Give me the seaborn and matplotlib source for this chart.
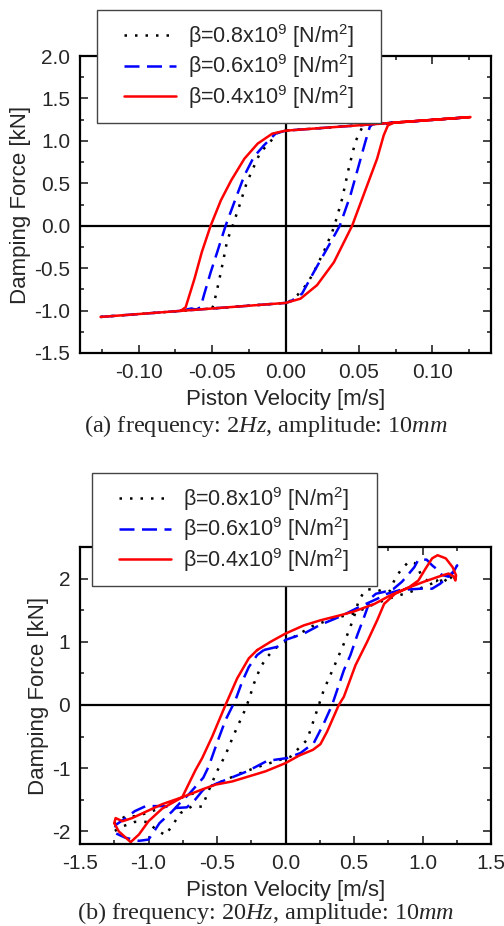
import matplotlib
matplotlib.use("Agg")
import matplotlib.pyplot as plt
import seaborn as sns
from matplotlib.lines import Line2D
from matplotlib.legend_handler import HandlerLine2D
from matplotlib.ticker import MultipleLocator, FormatStrFormatter

# ---- data (closed hysteresis loops) ----
labels = [r"β=0.8x10$^{9}$ [N/m$^{2}$]",
          r"β=0.6x10$^{9}$ [N/m$^{2}$]",
          r"β=0.4x10$^{9}$ [N/m$^{2}$]"]

# (a) 2 Hz
a_x_08 = [-0.126, 0.0, 0.004, 0.008, 0.0148, 0.0193, 0.026, 0.0318, 0.034, 0.0386, 0.043, 0.0476,
          0.052, 0.057, 0.126, 0.0, -0.006, -0.0113, -0.017, -0.0238, -0.027, -0.0317, -0.0363,
          -0.0397, -0.0424, -0.0454, -0.0488, -0.050]
a_y_08 = [-1.075, -0.91, -0.88, -0.82, -0.684, -0.546, -0.31, -0.075, 0.04, 0.318, 0.67, 0.99,
          1.15, 1.195, 1.28, 1.12, 1.09, 0.967, 0.87, 0.61, 0.475, 0.22, -0.015,
          -0.173, -0.41, -0.66, -0.92, -0.976]

a_x_06 = [-0.126, 0.0, 0.0034, 0.0113, 0.0193, 0.0283, 0.037, 0.0442, 0.0499, 0.0544, 0.0574,
          0.0612, 0.0646, 0.0714, 0.126, 0.0, -0.0068, -0.0147, -0.0216, -0.028, -0.034, -0.0408,
          -0.0465, -0.051, -0.0556, -0.0578, -0.061, -0.064, -0.068]
a_y_06 = [-1.075, -0.91, -0.893, -0.80, -0.546, -0.27, 0.0, 0.357, 0.71, 0.99, 1.164,
          1.23, 1.20, 1.21, 1.28, 1.12, 1.085, 0.947, 0.81, 0.593, 0.318, 0.0,
          -0.31, -0.55, -0.82, -0.96, -0.99, -0.975, -0.99]

a_x_04 = [-0.126, 0.0, 0.0102, 0.0215, 0.033, 0.0454, 0.054, 0.0624, 0.0669, 0.0697, 0.0737,
          0.126, 0.0, -0.009, -0.019, -0.028, -0.037, -0.044, -0.051, -0.057, -0.062, -0.068, -0.0714]
a_y_04 = [-1.075, -0.91, -0.86, -0.70, -0.43, 0.0, 0.40, 0.79, 1.065, 1.18, 1.215,
          1.28, 1.12, 1.085, 0.967, 0.79, 0.534, 0.30, 0.0, -0.31, -0.625, -0.96, -1.003]

# (b) 20 Hz
b_x_08 = [-0.073, 0.0, 0.207, 0.353, 0.5, 0.65, 0.79, 0.9, 1.0, 1.1, 1.2, 1.24,
          1.23, 1.18, 1.143, 1.1, 1.034, 0.985, 0.95, 0.9, 0.84, 0.8, 0.76, 0.717, 0.645, 0.584,
          0.535, 0.5, 0.426, 0.353, 0.28, 0.231, 0.158, 0.036, 0.0,
          -0.2, -0.33, -0.43, -0.52, -0.62, -0.74, -0.83, -0.9, -1.01, -1.095, -1.168, -1.25,
          -1.25, -1.2, -1.1, -1.0, -0.949, -0.876, -0.815, -0.766, -0.68, -0.608, -0.56, -0.5,
          -0.438, -0.377, -0.30, -0.268, -0.23, -0.182, -0.134, -0.073]
b_y_08 = [0.9, 1.0, 1.26, 1.37, 1.45, 1.6, 1.71, 1.78, 1.86, 1.95, 2.0, 2.08,
          2.0, 1.95, 2.02, 1.96, 1.97, 2.08, 2.24, 2.27, 2.13, 2.0, 1.80, 1.79, 1.84, 1.82,
          1.66, 1.39, 0.97, 0.6, 0.24, -0.08, -0.55, -0.82, -0.84,
          -0.98, -1.08, -1.18, -1.26, -1.36, -1.45, -1.53, -1.62, -1.71, -1.76, -1.76, -1.88,
          -2.0, -1.93, -1.85, -1.85, -1.97, -2.06, -1.87, -1.71, -1.6, -1.61, -1.35, -1.05,
          -0.79, -0.47, -0.1, 0.08, 0.34, 0.6, 0.76, 0.9]

b_x_06 = [-0.158, -0.061, 0.0, 0.134, 0.255, 0.4, 0.547, 0.669, 0.742, 0.839, 0.985, 1.07,
          1.13, 1.19, 1.23, 1.253,
          1.24, 1.19, 1.14, 1.11, 1.07, 1.03, 0.97, 0.94, 0.89, 0.85, 0.79, 0.72, 0.66, 0.633,
          0.6, 0.57, 0.523, 0.474, 0.426, 0.34, 0.28, 0.207, 0.11, 0.012,
          -0.134, -0.28, -0.5, -0.6, -0.66, -0.72, -0.8, -0.9, -1.02, -1.1, -1.155, -1.2,
          -1.24, -1.25,
          -1.17, -1.07, -1.0, -0.95, -0.92, -0.83, -0.77, -0.7, -0.6, -0.56, -0.5, -0.438,
          -0.365, -0.316, -0.268, -0.207, -0.158]
b_y_06 = [0.87, 0.92, 1.03, 1.13, 1.27, 1.40, 1.56, 1.68, 1.76, 1.82, 1.84, 1.84,
          1.92, 2.04, 2.12, 2.21,
          2.12, 2.03, 2.06, 2.14, 2.21, 2.30, 2.30, 2.18, 2.05, 1.95, 1.84, 1.79, 1.76, 1.71,
          1.55, 1.37, 1.1, 0.79, 0.55, 0.0, -0.29, -0.6, -0.76, -0.84,
          -0.885, -1.05, -1.24, -1.34, -1.5, -1.62, -1.63, -1.6, -1.6, -1.68, -1.77, -1.84,
          -1.9, -2.02,
          -2.1, -2.15, -2.13, -1.97, -1.87, -1.69, -1.55, -1.4, -1.15, -0.97, -0.6, -0.24,
          0.08, 0.37, 0.6, 0.79, 0.87]

b_x_04 = [-0.207, -0.109, 0.0, 0.134, 0.255, 0.4, 0.5, 0.65, 0.77, 0.89, 1.01, 1.13, 1.19,
          1.23, 1.24,
          1.245, 1.22, 1.17, 1.11, 1.07, 1.02, 0.97, 0.9, 0.8, 0.72, 0.669, 0.596, 0.511, 0.426,
          0.389, 0.304, 0.255, 0.2, 0.1, 0.0,
          -0.146, -0.389, -0.51, -0.6, -0.754, -0.9, -1.02, -1.12, -1.19, -1.24,
          -1.25, -1.217, -1.13, -1.07, -1.0, -0.9, -0.754, -0.657, -0.608, -0.535, -0.438,
          -0.353, -0.268, -0.207]
b_y_04 = [0.869, 1.0, 1.13, 1.26, 1.34, 1.42, 1.48, 1.60, 1.74, 1.85, 1.95, 2.04, 2.08,
          2.03, 1.97,
          2.05, 2.18, 2.32, 2.37, 2.32, 2.15, 1.97, 1.86, 1.76, 1.60, 1.34, 1.0, 0.63, 0.13,
          0.0, -0.42, -0.62, -0.71, -0.80, -0.92,
          -1.05, -1.21, -1.26, -1.33, -1.46, -1.57, -1.69, -1.79, -1.84, -1.79,
          -1.87, -2.0, -2.17, -2.05, -1.84, -1.64, -1.46, -1.03, -0.84, -0.50, 0.0,
          0.42, 0.738, 0.869]

colors = ["black", "blue", "red"]
styles = [(0, (1, 3.2)), (0, (6, 3)), "-"]

sns.set_style("ticks")
plt.rcParams["font.family"] = ["Liberation Sans", "DejaVu Sans"]
plt.rcParams["mathtext.fontset"] = "custom"
plt.rcParams["mathtext.rm"] = "Liberation Serif"
plt.rcParams["mathtext.it"] = "Liberation Serif:italic"
plt.rcParams["mathtext.default"] = "regular"
plt.rcParams["axes.unicode_minus"] = False

fig = plt.figure(figsize=(5.04, 9.26), dpi=100)
ax1 = fig.add_axes([80 / 504, 1 - 353 / 926, 411 / 504, 297 / 926])
ax2 = fig.add_axes([80 / 504, 1 - 844 / 926, 411 / 504, 297 / 926])


def draw_panel(ax, xs, ys):
    ax.axhline(0, color="black", lw=1.6, zorder=1)
    ax.axvline(0, color="black", lw=1.6, zorder=1)
    for x, y, c, ls, lab in zip(xs, ys, colors, styles, labels):
        sns.lineplot(x=x, y=y, sort=False, estimator=None, ax=ax, color=c,
                     linestyle=ls, linewidth=1.8, label=lab, zorder=2)
    ax.set_xlabel("Piston Velocity [m/s]", fontsize=16, labelpad=5.5)
    ax.set_ylabel("Damping Force [kN]", fontsize=16, labelpad=2)
    ax.tick_params(which="both", direction="in", top=True, right=True,
                   labelsize=15, width=1.2, pad=7)
    ax.tick_params(which="major", length=6)
    ax.tick_params(which="minor", length=3)
    for s in ax.spines.values():
        s.set_linewidth(1.6)
        s.set_color("black")


draw_panel(ax1, [a_x_08, a_x_06, a_x_04], [a_y_08, a_y_06, a_y_04])
ax1.set_xlim(-0.14, 0.14)
ax1.set_ylim(-1.5, 2.0)
ax1.xaxis.set_major_locator(MultipleLocator(0.05))
ax1.xaxis.set_minor_locator(MultipleLocator(0.025))
ax1.yaxis.set_major_locator(MultipleLocator(0.5))
ax1.yaxis.set_minor_locator(MultipleLocator(0.25))
ax1.xaxis.set_major_formatter(FormatStrFormatter("%.2f"))
ax1.yaxis.set_major_formatter(FormatStrFormatter("%.1f"))

draw_panel(ax2, [b_x_08, b_x_06, b_x_04], [b_y_08, b_y_06, b_y_04])
ax2.set_xlim(-1.5, 1.5)
ax2.set_ylim(-2.2, 2.5)
ax2.xaxis.set_major_locator(MultipleLocator(0.5))
ax2.xaxis.set_minor_locator(MultipleLocator(0.25))
ax2.yaxis.set_major_locator(MultipleLocator(1))
ax2.yaxis.set_minor_locator(MultipleLocator(0.5))
ax2.xaxis.set_major_formatter(FormatStrFormatter("%.1f"))
ax2.yaxis.set_major_formatter(FormatStrFormatter("%.0f"))

# legend boxes sit partly above the axes, as in the reference
for ax, (lx, ly, lw_, lh) in [(ax1, (97, 10, 284, 105)), (ax2, (92, 473, 285, 104))]:
    leg = ax.legend(loc="upper left",
                    bbox_to_anchor=(lx / 504, 1 - (ly + lh) / 926, lw_ / 504, lh / 926),
                    bbox_transform=fig.transFigure, mode="expand", fontsize=15.5,
                    frameon=True, fancybox=False, framealpha=1, edgecolor="#444444",
                    handlelength=3.1, handletextpad=0.58, labelspacing=0.12,
                    borderpad=0.55, borderaxespad=0,
                    handler_map={Line2D: HandlerLine2D(xpad=0.7)})
    leg.get_frame().set_linewidth(1.0)

fig.text(266 / 504, 1 - 432 / 926, r"(a) frequency: 2$\mathit{Hz}$, amplitude: 10$\mathit{mm}$",
         ha="center", va="baseline", fontsize=17.5, family="Liberation Serif")
fig.text(266 / 504, 1 - 919 / 926, r"(b) frequency: 20$\mathit{Hz}$, amplitude: 10$\mathit{mm}$",
         ha="center", va="baseline", fontsize=17.5, family="Liberation Serif")

fig.savefig("out.png", dpi=100)
